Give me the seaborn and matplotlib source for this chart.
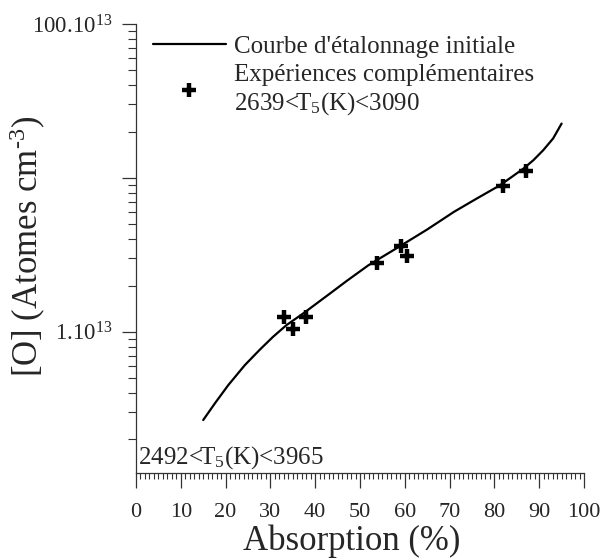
import matplotlib
matplotlib.use('Agg')
import matplotlib.pyplot as plt
import seaborn as sns
import pandas as pd
from matplotlib.ticker import LogLocator, MultipleLocator, NullFormatter
from matplotlib.lines import Line2D

# courbe d'etalonnage initiale : absorption (%) et log10([O])
courbe_abs = [15.0, 17.6, 20.6, 24.3, 27.7, 30.6, 33.6, 37.3, 43.3, 47.0, 51.9, 58.9, 65.0, 71.0, 76.0,
              81.3, 86.5, 88.7, 90.9, 93.1, 95.0]
courbe_log = [12.427, 12.535, 12.654, 12.784, 12.886, 12.968, 13.044, 13.119, 13.249, 13.33, 13.433,
              13.556, 13.665, 13.78, 13.865, 13.953, 14.061, 14.115, 14.18, 14.256, 14.353]

# experiences complementaires
exp_abs = [33.0, 35.0, 37.9, 53.9, 59.1, 60.4, 82.0, 87.0]
exp_O = [1.25e13, 1.04e13, 1.24e13, 2.82e13, 3.60e13, 3.12e13, 8.83e13, 1.11e14]

yticks = [1e13, 1e14, 1e15]
ytick_labels = ['1.10$^{13}$', '', '100.10$^{13}$']

sns.set_style('ticks')
plt.rcParams['font.family'] = ['Liberation Serif', 'DejaVu Serif']
plt.rcParams['mathtext.fontset'] = 'custom'
plt.rcParams['mathtext.rm'] = 'Liberation Serif'
plt.rcParams['mathtext.it'] = 'Liberation Serif:italic'
plt.rcParams['mathtext.default'] = 'rm'

df_courbe = pd.DataFrame({'abs': courbe_abs, 'O': [10 ** v for v in courbe_log]})
df_exp = pd.DataFrame({'abs': exp_abs, 'O': exp_O})

fig = plt.figure(figsize=(6.01, 5.58), dpi=100)
ax = fig.add_axes([0.2263, 0.1523, 0.7454, 0.8047])

sns.lineplot(data=df_courbe, x='abs', y='O', color='black', lw=1.6, ax=ax, legend=False)
sns.scatterplot(data=df_exp, x='abs', y='O', marker='+', s=110, linewidth=3.2, color='black', ax=ax, legend=False)

ax.set_yscale('log')
ax.set_xlim(0, 100)
ax.set_ylim(1.21e12, 1e15)
ax.set_xlabel('')
ax.set_ylabel('')

ax.xaxis.set_major_locator(MultipleLocator(10))
ax.xaxis.set_minor_locator(MultipleLocator(1))
ax.set_yticks(yticks, ytick_labels)
ax.yaxis.set_minor_locator(LogLocator(base=10, subs=[2, 3, 4, 5, 6, 7, 8, 9]))
ax.yaxis.set_minor_formatter(NullFormatter())

sp_col = '#333333'
for s in ['top', 'right']:
    ax.spines[s].set_visible(False)
for s in ['left', 'bottom']:
    ax.spines[s].set_color(sp_col)
    ax.spines[s].set_linewidth(0.9)

ax.tick_params(axis='x', which='major', length=10.8, width=0.9, color=sp_col, labelsize=16, pad=10.5)
ax.tick_params(axis='x', which='minor', length=4.3, width=0.8, color=sp_col)
ax.tick_params(axis='y', which='major', length=10, width=0.9, color=sp_col, labelsize=16.5, pad=7)
ax.tick_params(axis='y', which='minor', length=5.8, width=0.8, color=sp_col)

fig.text(351.5 / 601, 1 - 541 / 558, 'Absorption (%)', fontsize=25, ha='center', va='center')
fig.text(28 / 601, 1 - 246 / 558, r'[O] (Atomes cm$^{\text{-3}}$)', fontsize=25, rotation=90,
         ha='center', va='center')

ax.text(0.005, 0.022, '2492<T$_5$(K)<3965', transform=ax.transAxes, fontsize=18, va='baseline', ha='left')

handles = [Line2D([], [], color='black', lw=1.6),
           Line2D([], [], color='black', marker='+', ls='', markersize=10, markeredgewidth=3.2)]
labels = ["Courbe d'étalonnage initiale", 'Expériences complémentaires\n2639<T$_5$(K)<3090']
ax.legend(handles, labels, loc='upper left', bbox_to_anchor=(0.038, 0.975), frameon=False,
          fontsize=18, handlelength=2.9, handletextpad=0.32, borderpad=0, borderaxespad=0,
          labelspacing=0.25)

plt.savefig('out.png', dpi=100)
